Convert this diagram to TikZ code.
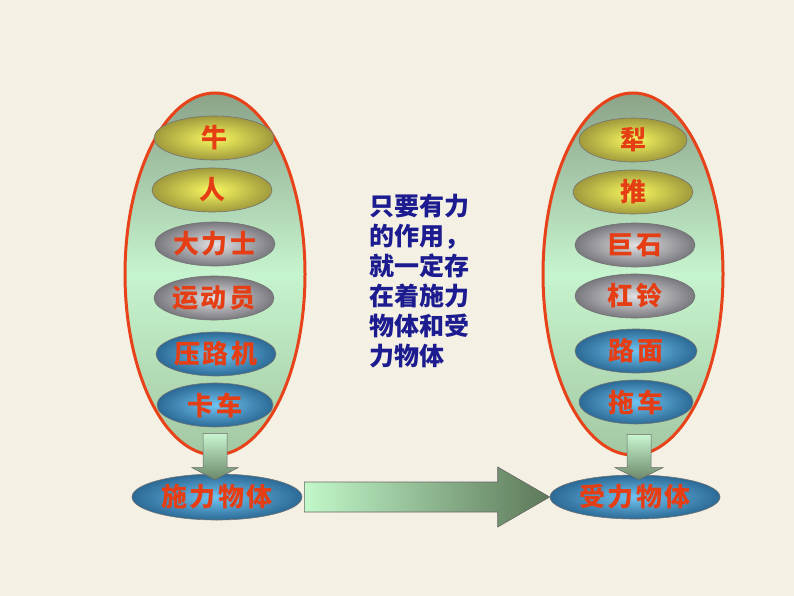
\documentclass[tikz,border=0pt]{standalone}
\usepackage{fontspec}
\newfontfamily\cjk{Noto Sans CJK SC}
\usetikzlibrary{shapes.geometric,calc}
\definecolor{bg}{HTML}{F4F1E4}
\definecolor{rim}{HTML}{E8421A}
\definecolor{lbl}{HTML}{E63E14}
\definecolor{txtblue}{HTML}{1C1C90}
\definecolor{gtop}{HTML}{8BA389}
\definecolor{gmid}{HTML}{C6F4CE}
\definecolor{gbot}{HTML}{A2C8A2}
\newcommand\lbltext[1]{#1\hspace{-2.6pt}}
\tikzset{
  big/.style={ellipse, draw=rim, line width=3pt, minimum width=180, minimum height=362, inner sep=0,
    top color=gtop, bottom color=gbot, middle color=gmid},
  item/.style={ellipse, draw=black!55, line width=0.6pt, minimum width=120, minimum height=44, inner sep=0,
    text=lbl, font=\cjk\bfseries\fontsize{26}{26}\selectfont\addfontfeature{LetterSpace=10}},
  yel/.style={item, inner color={rgb,255:red,248;green,248;blue,96}, outer color={rgb,255:red,160;green,154;blue,60}},
  gry/.style={item, inner color={rgb,255:red,225;green,225;blue,228}, outer color={rgb,255:red,120;green,120;blue,126}},
  blu/.style={item, inner color={rgb,255:red,112;green,196;blue,242}, outer color={rgb,255:red,44;green,106;blue,150}},
  downarrow/.style={draw=gray!80!black, line width=0.5pt, top color={rgb,255:red,200;green,246;blue,208}, bottom color={rgb,255:red,108;green,136;blue,106}},
  rightarrow/.style={draw=gray!80!black, line width=0.6pt, left color={rgb,255:red,194;green,248;blue,202}, right color={rgb,255:red,92;green,120;blue,88}},
}
\begin{document}
\begin{tikzpicture}[x=1pt,y=-1pt]
\useasboundingbox[fill=bg] (0,0) rectangle (794,596);
% left group
\node[big] (L) at (215,274) {};
\node[yel] (niu) at (214,138) {\lbltext{牛}};
\node[yel] (ren) at (212,190) {\lbltext{人}};
\node[gry] (dali) at (215,244) {\lbltext{大力士}};
\node[gry] (ydy) at (214,298) {\lbltext{运动员}};
\node[blu] (ylj) at (216,354) {\lbltext{压路机}};
\node[blu, minimum width=116] (kache) at (215,405) {\lbltext{卡车}};
\node[blu, minimum width=170, minimum height=46] (shi) at (217,497) {\lbltext{施力物体}};
% right group
\node[big] (R) at (633,274) {};
\node[yel, minimum width=108] (li) at (633,140) {\lbltext{犁}};
\node[yel] (tui) at (633,192) {\lbltext{推}};
\node[gry] (jushi) at (635,245) {\lbltext{巨石}};
\node[gry] (gangling) at (635,296) {\lbltext{杠铃}};
\node[blu, minimum width=122] (lumian) at (636,351) {\lbltext{路面}};
\node[blu, minimum width=114] (tuoche) at (636,402) {\lbltext{拖车}};
\node[blu, minimum width=170, minimum height=44] (shou) at (635,497) {\lbltext{受力物体}};
% down arrows
\coordinate (la1) at ($(kache.south)+(0,6)$);
\coordinate (la2) at ($(shi.north)+(-2,6)$);
\path[downarrow] ($(la1)+(-12,0)$) -- ($(la1)+(12,0)$) -- ($(la2)+(12,-12)$) -- ($(la2)+(23,-12)$) -- (la2) -- ($(la2)+(-23,-12)$) -- ($(la2)+(-12,-12)$) -- cycle;
\coordinate (ra1) at ($(tuoche.south)+(3,10)$);
\coordinate (ra2) at ($(shou.north)+(4,5)$);
\path[downarrow] ($(ra1)+(-12,0)$) -- ($(ra1)+(12,0)$) -- ($(ra2)+(12,-12)$) -- ($(ra2)+(24,-12)$) -- (ra2) -- ($(ra2)+(-24,-12)$) -- ($(ra2)+(-12,-12)$) -- cycle;
% big right arrow
\path[rightarrow] ($(shi.east)+(2,-15)$) -- ($(shou.west)+(-52,-15)$) -- ($(shou.west)+(-52,-30)$) -- (shou.west) -- ($(shou.west)+(-52,30)$) -- ($(shou.west)+(-52,15)$) -- ($(shi.east)+(2,15)$) -- cycle;
% middle text
\node[align=left, inner sep=0, text=txtblue, font=\cjk\bfseries\fontsize{25}{30}\selectfont] (note) at (419,281)
  {只要有力\\的作用，\\就一定存\\在着施力\\物体和受\\力物体};
\end{tikzpicture}
\end{document}
